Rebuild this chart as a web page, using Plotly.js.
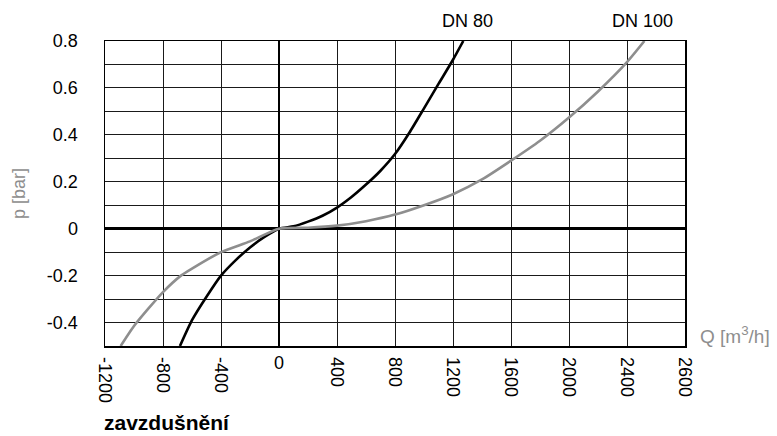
<!DOCTYPE html>
<html>
<head>
<meta charset="utf-8">
<script src="https://cdn.plot.ly/plotly-3.0.1.min.js"></script>
<style>html,body{margin:0;padding:0;background:#fff;}#chart{width:777px;height:436px;}</style>
</head>
<body>
<div id="chart"></div>
<script>
// Q [m3/h] and p [bar]
const dn80Q = [-683, -600, -500, -400, -300, -200, -100, 0, 100, 200, 300, 400, 500, 600, 700, 800, 900, 1000, 1100, 1200, 1271];
const dn80P = [-0.5, -0.39, -0.29, -0.2, -0.135, -0.08, -0.035, 0, 0.01, 0.03, 0.055, 0.09, 0.135, 0.188, 0.247, 0.318, 0.41, 0.513, 0.617, 0.72, 0.8];
const dn100Q = [-1092, -1000, -900, -800, -676, -600, -400, -200, 0, 200, 400, 600, 800, 1000, 1200, 1400, 1600, 1800, 2000, 2200, 2400, 2520];
const dn100P = [-0.5, -0.415, -0.34, -0.27, -0.2, -0.17, -0.1, -0.054, 0, 0.004, 0.013, 0.032, 0.06, 0.1, 0.147, 0.21, 0.29, 0.375, 0.474, 0.585, 0.71, 0.8];
const seriesNames = ['DN 80', 'DN 100'];
const xTickVals = [-1200, -800, -400, 400, 800, 1200, 1600, 2000, 2400, 2800];
const xTickText = ['-1200', '-800', '-400', '400', '800', '1200', '1600', '2000', '2400', '2600'];
const yTickVals = [-0.4, -0.2, 0, 0.2, 0.4, 0.6, 0.8];
const yTickText = ['-0.4', '-0.2', '0', '0.2', '0.4', '0.6', '0.8'];
const xTitle = 'Q [m<sup>3</sup>/h]';
const yTitle = 'p [bar]';
const footer = 'zavzdušnění';

const FONT = 'Liberation Sans, Arial, Helvetica, sans-serif';
const GRAY = '#8e8e8e';

const traces = [
  {x: dn80Q, y: dn80P, name: seriesNames[0], mode: 'lines', line: {color: '#000', width: 2.6, shape: 'spline', smoothing: 0.6}, cliponaxis: true},
  {x: dn100Q, y: dn100P, name: seriesNames[1], mode: 'lines', line: {color: GRAY, width: 2.6, shape: 'spline', smoothing: 0.6}, cliponaxis: true},
  {x: [0], y: [0], xaxis: 'x2', mode: 'markers', marker: {opacity: 0, size: 1}, showlegend: false, hoverinfo: 'skip'}
];

const layout = {
  width: 777, height: 436,
  margin: {l: 105, r: 92, t: 41, b: 90},
  paper_bgcolor: '#fff', plot_bgcolor: '#fff',
  showlegend: false,
  font: {family: FONT, size: 18, color: '#000'},
  xaxis: {
    range: [-1200, 2800], tickmode: 'array', tickvals: xTickVals, ticktext: xTickText,
    tickangle: 90, ticks: '', ticklabelstandoff: 6,
    showgrid: true, gridcolor: '#1a1a1a', gridwidth: 1,
    zeroline: true, zerolinecolor: '#000', zerolinewidth: 2.5,
    showline: true, mirror: true, linecolor: '#000', linewidth: 1.5,
    tickfont: {family: FONT, size: 18, color: '#000'}, fixedrange: true
  },
  xaxis2: {
    overlaying: 'x', anchor: 'y', side: 'bottom', range: [-1200, 2800],
    tickmode: 'array', tickvals: [0], ticktext: ['0'], tickangle: 0, ticks: '', ticklabelstandoff: 4,
    showgrid: false, zeroline: false, showline: false,
    tickfont: {family: FONT, size: 18, color: '#000'}, fixedrange: true
  },
  yaxis: {
    range: [-0.5, 0.8], tickmode: 'array', tickvals: yTickVals, ticktext: yTickText,
    ticks: '', ticklabelstandoff: 22,
    showgrid: true, gridcolor: '#1a1a1a', gridwidth: 1,
    minor: {dtick: 0.1, tick0: 0, showgrid: true, gridcolor: '#1a1a1a', gridwidth: 1, ticks: ''},
    zeroline: true, zerolinecolor: '#000', zerolinewidth: 2.5,
    showline: true, mirror: true, linecolor: '#000', linewidth: 1.5,
    tickfont: {family: FONT, size: 18, color: '#000'},
    title: {text: yTitle, font: {family: FONT, size: 18, color: GRAY}, standoff: 16},
    fixedrange: true
  },
  annotations: [
    {text: seriesNames[0], xref: 'x', x: 1303, yref: 'paper', y: 1, yanchor: 'middle', yshift: 20, xanchor: 'center', showarrow: false, font: {family: FONT, size: 18, color: '#000'}},
    {text: seriesNames[1], xref: 'x', x: 2510, yref: 'paper', y: 1, yanchor: 'middle', yshift: 20, xanchor: 'center', showarrow: false, font: {family: FONT, size: 18, color: '#000'}},
    {text: xTitle, xref: 'paper', x: 1, xanchor: 'left', xshift: 13, yref: 'paper', y: 0, yanchor: 'middle', yshift: 11, showarrow: false, font: {family: FONT, size: 19, color: GRAY}},
    {text: '<b>' + footer + '</b>', xref: 'paper', x: 0, xanchor: 'left', xshift: -2, yref: 'paper', y: 0, yanchor: 'middle', yshift: -76, borderpad: 0, showarrow: false, font: {family: FONT, size: 21, color: '#000'}}
  ]
};

Plotly.newPlot('chart', traces, layout, {staticPlot: true, displayModeBar: false});
</script>
</body>
</html>
